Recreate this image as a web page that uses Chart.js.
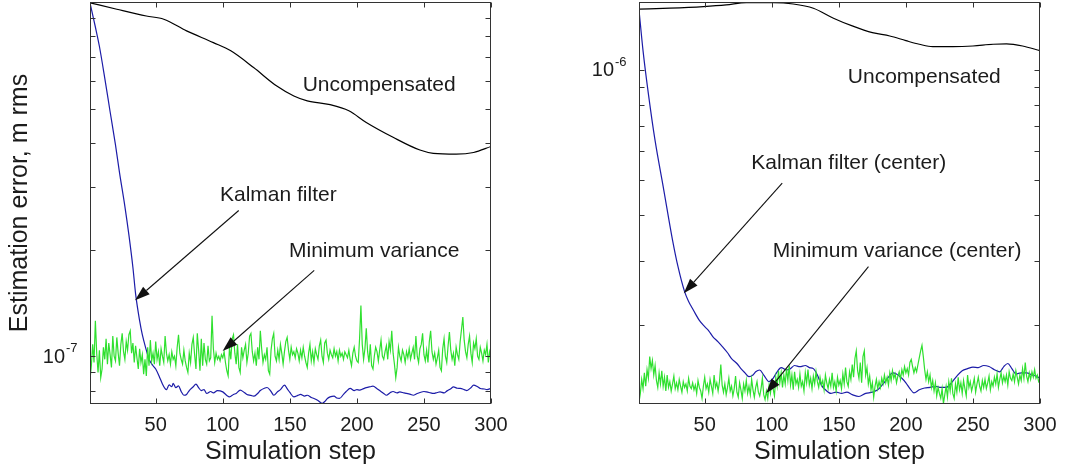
<!DOCTYPE html>
<html>
<head>
<meta charset="utf-8">
<script src="https://cdn.jsdelivr.net/npm/chart.js@4.4.1/dist/chart.umd.min.js"></script>
<style>
  html, body { margin: 0; padding: 0; background: #fff; }
  #wrap { position: relative; width: 1067px; height: 470px; overflow: hidden; }
  canvas { position: absolute; top: 0; }
</style>
</head>
<body>
<div id="wrap">
  <canvas id="left" width="533" height="470" style="left:0"></canvas>
  <canvas id="right" width="534" height="470" style="left:533px"></canvas>
</div>
<script>
// all error values are in units of 1e-8 m rms
const stepTicks = [50, 100, 150, 200, 250, 300];

// left panel
const leftUncomp = [[1, 99.5], [21, 95.4], [43, 91.3], [56, 89.4], [73, 82.9], [93, 76.8], [106, 72.8],
  [123, 65.3], [140, 58.0], [153, 54.3], [163, 52.6], [180, 51.3], [194, 49.3], [207, 45.7], [227, 41.5],
  [247, 38.2], [257, 37.4], [274, 37.2], [287, 37.6], [300, 39.1]];

const leftKalman = [[1, 99.5], [5, 85], [8, 75], [12, 61], [16, 49], [20, 39.5], [23, 33], [27, 26.5],
  [30, 22], [33, 17.8], [35, 15], [38, 12.6], [40, 11.5], [43, 10.4], [45, 9.8], [48, 9.4], [50, 9.2],
  [53, 8.7], [55, 8.35], [57, 8.1], [58, 8.05], [60, 8.3], [62, 8.2], [63, 8.38], [65, 8.15], [67, 8.25],
  [69, 7.95], [71, 7.76], [73, 7.8], [75, 8.0], [78, 8.2], [80, 8.34], [82, 8.15], [84, 8.0], [86, 8.05],
  [88, 7.85], [91, 7.95], [93, 7.88], [96, 8.0], [100, 7.93], [103, 7.75], [105, 7.68], [108, 7.8],
  [110, 7.85], [113, 8.02], [116, 7.9], [118, 7.8], [121, 7.75], [123, 7.71], [126, 7.85], [128, 8.0],
  [131, 8.12], [133, 8.16], [136, 7.95], [138, 7.76], [141, 7.95], [143, 8.05], [146, 8.29], [148, 8.1],
  [150, 7.9], [153, 7.68], [156, 7.75], [158, 7.8], [161, 7.72], [163, 7.76], [166, 7.65], [168, 7.6],
  [171, 7.5], [174, 7.36], [176, 7.45], [178, 7.6], [180, 7.68], [183, 7.72], [185, 7.62], [187, 7.6],
  [190, 7.8], [192, 7.95], [195, 8.11], [198, 8.0], [200, 8.05], [202, 8.02], [205, 8.1], [207, 8.15],
  [210, 8.2], [212, 8.23], [215, 8.1], [217, 8.0], [220, 7.85], [222, 7.76], [225, 7.9], [227, 7.95],
  [230, 7.88], [232, 7.93], [235, 7.88], [237, 7.85], [240, 7.8], [242, 7.76], [245, 7.85], [247, 7.9],
  [250, 7.95], [252, 7.93], [255, 7.88], [257, 7.85], [260, 7.9], [262, 7.93], [265, 7.88], [267, 7.97],
  [270, 8.1], [272, 8.19], [275, 8.12], [277, 8.11], [280, 8.05], [282, 8.0], [285, 8.15], [287, 8.29],
  [290, 8.2], [292, 8.11], [295, 8.08], [297, 8.05], [300, 8.11]];

const leftMinVar = [
  8.6, 9.4, 10.8, 9.6, 12.6, 10.2, 9.0, 10.4, 8.7, 9.2, 10.6, 9.8, 11.2, 9.5, 10.9, 10.1, 9.3, 11.4, 10.0, 9.7,
  11.3, 10.2, 9.4, 10.8, 11.6, 10.3, 9.8, 11.0, 10.4, 11.5, 11.8, 10.2, 10.9, 9.6, 10.7, 9.9, 9.2, 10.5, 9.6, 10.1,
  8.9, 9.8, 8.8, 10.6, 9.4, 11.1, 9.7, 10.2, 9.5, 11.0, 9.8, 10.3, 9.4, 10.5, 10.0, 9.6, 11.4, 10.2, 9.7, 10.1,
  9.5, 10.3, 9.8, 10.0, 9.4, 10.6, 11.5, 10.2, 9.8, 9.5, 10.4, 9.7, 9.3, 9.0, 10.2, 9.6, 10.8, 11.3, 10.1, 9.2,
  11.6, 10.4, 9.1, 11.2, 9.4, 10.9, 9.8, 9.5, 10.7, 9.7, 9.9, 13.0, 10.5, 9.6, 10.2, 9.8, 10.0, 9.7, 10.1, 9.9,
  10.3, 9.6, 9.1, 8.8, 10.6, 9.8, 11.2, 11.5, 10.2, 9.5, 10.8, 9.3, 9.0, 10.6, 9.9, 10.4, 10.8, 9.6, 10.2, 11.4,
  11.6, 10.3, 9.7, 10.2, 9.4, 10.6, 9.8, 11.8, 10.5, 9.6, 10.1, 9.8, 10.6, 9.1, 8.9, 10.4, 11.2, 11.6, 10.0, 9.7,
  10.4, 9.8, 10.8, 10.2, 9.5, 10.3, 11.0, 11.3, 10.4, 9.8, 10.6, 10.1, 10.3, 9.9, 10.5, 10.2, 9.7, 10.4, 9.9, 10.6,
  10.0, 9.6, 9.3, 10.2, 10.8, 9.7, 10.3, 9.6, 10.5, 10.1, 9.8, 10.7, 11.1, 10.0, 9.6, 10.9, 11.1, 10.2, 9.8, 10.4,
  10.1, 9.9, 10.5, 10.0, 10.3, 9.7, 10.4, 10.0, 10.2, 9.8, 10.3, 10.1, 9.9, 10.4, 9.8, 9.4, 10.2, 10.6, 10.0, 9.7,
  9.6, 11.2, 13.9, 10.8, 9.8, 10.5, 12.0, 10.3, 9.6, 10.8, 9.4, 9.2, 10.0, 10.6, 10.3, 9.7, 10.4, 11.1, 10.0, 9.8,
  10.3, 10.7, 9.8, 11.0, 10.4, 11.8, 10.2, 9.5, 8.7, 9.3, 10.6, 10.0, 9.7, 10.4, 10.1, 9.6, 10.3, 9.9, 10.5, 9.8,
  10.2, 10.6, 9.8, 11.4, 10.0, 9.6, 10.5, 10.8, 11.6, 10.1, 9.7, 10.4, 9.6, 11.0, 11.8, 10.3, 9.8, 10.2, 9.5, 9.9,
  10.4, 9.3, 9.1, 10.5, 11.2, 10.0, 9.6, 10.7, 11.7, 10.4, 9.8, 10.2, 9.4, 10.6, 10.1, 9.8, 11.0, 11.9, 12.9, 11.1,
  10.3, 9.9, 10.8, 11.4, 10.2, 9.6, 10.9, 10.5, 11.2, 10.0, 9.8, 10.6, 10.2, 9.7, 10.4, 10.1, 10.8, 9.6, 10.3, 9.9];

// right panel
const rightUncomp = [[1, 146.7], [24, 147.6], [49, 149.1], [66, 150.7], [81, 152.9], [101, 152.9], [116, 151.6],
  [131, 147.6], [146, 138.6], [160, 132], [175, 126.5], [188, 123.9], [200, 120.3], [210, 117.6], [220, 115.8],
  [235, 115.8], [250, 116.3], [265, 117.6], [275, 117.8], [287, 116.3], [300, 112.9]];

const rightKalman = [[1, 146], [4, 113], [8, 86], [13, 64], [19, 48], [26, 34.2], [30, 29], [35, 24.7],
  [38, 23.2], [40, 22.5], [43, 21.5], [46, 20.6], [50, 19.8], [53, 19.3], [56, 18.6], [60, 18.0], [63, 17.5],
  [67, 16.8], [70, 16.2], [74, 15.7], [77, 15.2], [80, 14.8], [83, 14.45], [86, 14.6], [88, 14.9], [91, 15.07],
  [94, 14.6], [98, 14.0], [101, 14.3], [104, 14.9], [107, 15.3], [111, 15.07], [114, 15.2], [117, 15.5],
  [121, 15.39], [125, 15.5], [128, 15.3], [131, 15.2], [134, 14.6], [137, 13.7], [140, 13.3], [144, 13.0],
  [148, 13.1], [152, 13.0], [156, 13.1], [160, 12.9], [165, 12.75], [170, 13.0], [175, 13.1], [179, 13.3],
  [183, 13.8], [187, 14.4], [190, 14.8], [193, 14.7], [197, 14.3], [200, 13.9], [203, 13.4], [206, 13.05],
  [210, 13.3], [214, 13.45], [218, 13.5], [222, 13.6], [226, 13.5], [230, 13.5], [234, 13.9], [238, 14.5],
  [242, 15.0], [246, 15.2], [250, 15.35], [254, 15.3], [258, 15.5], [262, 15.4], [266, 15.1], [270, 14.9],
  [273, 15.4], [276, 15.7], [279, 15.2], [282, 14.7], [286, 14.8], [290, 14.8], [294, 14.6], [297, 14.5],
  [300, 14.3]];

const rightMinVar = [
  12.3, 13.0, 14.2, 13.4, 14.8, 13.6, 15.1, 14.3, 16.4, 15.2, 16.0, 14.6, 15.5, 14.1, 13.5, 14.8, 13.8, 15.0, 13.6, 14.4,
  13.2, 14.6, 13.5, 14.0, 13.2, 13.8, 14.5, 13.4, 13.9, 13.3, 14.2, 13.6, 13.1, 14.0, 13.5, 13.8, 13.2, 14.3, 13.6, 13.4,
  13.9, 13.3, 13.7, 13.0, 14.1, 13.5, 13.2, 12.6, 13.6, 14.4, 13.4, 13.8, 13.1, 14.2, 13.6, 13.0, 14.6, 13.5, 13.9, 13.2,
  14.0, 15.6, 13.7, 13.1, 13.8, 12.9, 13.5, 14.3, 13.2, 13.6, 12.8, 13.4, 14.5, 13.1, 12.7, 13.9, 13.3, 12.6, 13.8, 13.2,
  14.1, 13.0, 13.6, 12.9, 14.2, 13.3, 12.7, 13.5, 14.0, 13.1, 12.8, 13.4, 14.3, 12.9, 12.5, 13.2, 12.6, 13.7, 13.0, 13.9,
  13.4, 12.8, 14.4, 13.6, 15.0, 13.9, 14.8, 13.5, 14.6, 13.8, 15.2, 14.1, 15.5, 13.7, 14.6, 13.3, 14.9, 13.8, 14.2, 13.5,
  14.7, 13.6, 14.0, 13.2, 14.8, 13.9, 15.1, 13.7, 14.3, 13.4, 14.5, 13.8, 14.9, 14.0, 13.5, 14.4, 13.7, 14.1, 13.3, 14.6,
  13.9, 13.4, 14.2, 13.6, 14.8, 13.5, 14.0, 13.2, 14.4, 13.7, 14.1, 13.4, 14.7, 13.8, 15.3, 14.0, 13.6, 14.9, 14.2, 15.6,
  14.4, 16.2, 17.0, 15.0, 14.3, 15.8, 13.9, 16.4, 17.0, 14.6, 15.3, 13.8, 14.5, 13.3, 13.9, 12.7, 13.6, 14.2, 13.4, 14.0,
  13.5, 14.3, 13.8, 14.6, 13.9, 14.4, 13.7, 14.8, 14.1, 15.0, 14.3, 14.7, 13.9, 14.5, 14.9, 14.2, 15.1, 14.6, 15.4, 14.8,
  15.2, 14.6, 15.8, 16.1, 15.4, 14.8, 15.3, 14.9, 15.6, 16.3, 17.0, 17.6, 16.4, 15.1, 14.2, 14.9, 14.0, 14.6, 13.5, 14.1,
  13.2, 13.9, 12.8, 13.5, 13.0, 12.6, 13.4, 12.2, 12.9, 13.6, 12.7, 14.0, 13.2, 14.3, 13.0, 12.6, 13.8, 13.1, 14.4, 13.3,
  13.9, 13.0, 14.1, 13.4, 12.8, 14.6, 13.5, 14.0, 13.2, 13.7, 14.3, 13.1, 13.8, 14.4, 13.6, 13.2, 14.1, 13.5, 14.2, 13.4,
  13.9, 14.5, 13.3, 14.0, 13.6, 14.4, 13.8, 14.7, 13.5, 14.2, 14.8, 13.9, 14.5, 14.0, 14.6, 13.7, 14.9, 14.3, 14.1, 14.7,
  14.0, 15.0, 14.4, 13.8, 14.6, 14.1, 15.2, 14.3, 15.8, 14.5, 14.0, 14.8, 14.2, 14.9, 14.4, 15.1, 14.3, 14.6, 14.0, 14.2];

const UNIT = 1e-8;
const FONT = "'Liberation Sans', Arial, Helvetica, sans-serif";
const TEXT = '#1c1c1c';

function pairs(list) {
  return list.map(p => ({ x: p[0], y: p[1] * UNIT }));
}

function series(vals) {
  return vals.map((v, i) => ({ x: i + 1, y: v * UNIT }));
}

function arrow(ctx, x0, y0, x1, y1) {
  const ang = Math.atan2(y1 - y0, x1 - x0);
  const len = 15, half = 5;
  const bx = x1 - len * Math.cos(ang), by = y1 - len * Math.sin(ang);
  ctx.beginPath();
  ctx.moveTo(x0, y0);
  ctx.lineTo(bx, by);
  ctx.stroke();
  ctx.beginPath();
  ctx.moveTo(x1, y1);
  ctx.lineTo(bx + half * Math.sin(ang), by - half * Math.cos(ang));
  ctx.lineTo(bx - half * Math.sin(ang), by + half * Math.cos(ang));
  ctx.closePath();
  ctx.fill();
}

// box, inward ticks, axis labels, notes and arrows
function framePlugin(cfg) {
  return {
    id: 'frame',
    afterDatasetsDraw(chart) {
      const { ctx, chartArea: a, scales: { x, y } } = chart;
      const L = Math.round(a.left) + 0.5, R = Math.round(a.right) - 0.5;
      const T = Math.round(a.top) + 0.5, B = Math.round(a.bottom) - 0.5;
      ctx.save();
      ctx.strokeStyle = '#333';
      ctx.lineWidth = 1;
      ctx.strokeRect(L, T, R - L, B - T);

      ctx.beginPath();
      stepTicks.forEach(t => {
        const px = Math.round(x.getPixelForValue(t)) + 0.5;
        ctx.moveTo(px, B); ctx.lineTo(px, B - 5);
        ctx.moveTo(px, T); ctx.lineTo(px, T + 5);
      });
      const lo = Math.floor(Math.log10(y.min)), hi = Math.ceil(Math.log10(y.max));
      for (let e = lo; e <= hi; e++) {
        for (let m = 1; m <= 9; m++) {
          const v = m * Math.pow(10, e);
          if (v < y.min || v > y.max) continue;
          const py = Math.round(y.getPixelForValue(v)) + 0.5;
          ctx.moveTo(L, py); ctx.lineTo(L + 5, py);
          ctx.moveTo(R, py); ctx.lineTo(R - 5, py);
        }
      }
      ctx.stroke();

      ctx.fillStyle = TEXT;

      // step tick labels and axis title
      ctx.font = '20px ' + FONT;
      ctx.textAlign = 'center';
      ctx.textBaseline = 'middle';
      stepTicks.forEach(t => ctx.fillText(String(t), x.getPixelForValue(t), a.bottom + 21));
      ctx.font = '25px ' + FONT;
      ctx.fillText('Simulation step', (a.left + a.right) / 2, a.bottom + 48);

      // decade label with superscript exponent
      const dy = y.getPixelForValue(Math.pow(10, cfg.decade));
      ctx.font = '20px ' + FONT;
      ctx.textAlign = 'right';
      const lx = a.left - 25;
      ctx.fillText('10', lx, dy + 1);
      ctx.font = '13px ' + FONT;
      ctx.textAlign = 'left';
      ctx.textBaseline = 'alphabetic';
      ctx.fillText(String(cfg.decade), lx + 1, dy - 4);

      if (cfg.yTitle) {
        ctx.save();
        ctx.translate(20, (a.top + a.bottom) / 2);
        ctx.rotate(-Math.PI / 2);
        ctx.font = '25px ' + FONT;
        ctx.textAlign = 'center';
        ctx.textBaseline = 'middle';
        ctx.fillText(cfg.yTitle, 0, 0);
        ctx.restore();
      }

      ctx.font = '21px ' + FONT;
      ctx.textAlign = 'left';
      ctx.textBaseline = 'alphabetic';
      cfg.notes.forEach(n => {
        ctx.fillText(n.text, x.getPixelForValue(n.step), y.getPixelForValue(n.value * UNIT));
      });

      ctx.strokeStyle = '#111';
      ctx.fillStyle = '#111';
      ctx.lineWidth = 1.1;
      cfg.arrows.forEach(r => {
        arrow(ctx,
          x.getPixelForValue(r.from[0]), y.getPixelForValue(r.from[1] * UNIT),
          x.getPixelForValue(r.to[0]), y.getPixelForValue(r.to[1] * UNIT));
      });
      ctx.restore();
    }
  };
}

function makeChart(id, cfg) {
  return new Chart(document.getElementById(id), {
    type: 'line',
    data: {
      datasets: [
        { data: pairs(cfg.uncomp), borderColor: '#000', borderWidth: 1.2, cubicInterpolationMode: 'monotone' },
        { data: series(cfg.minVar), borderColor: '#2fe02f', borderWidth: 1.2, tension: 0 },
        { data: pairs(cfg.kalman), borderColor: '#1c1ca8', borderWidth: 1.2, cubicInterpolationMode: 'monotone' },
      ],
    },
    options: {
      responsive: false,
      animation: false,
      devicePixelRatio: 1,
      parsing: false,
      layout: { padding: cfg.padding, autoPadding: false },
      elements: { point: { radius: 0 } },
      plugins: { legend: { display: false }, tooltip: { enabled: false } },
      scales: {
        x: { type: 'linear', display: false, min: 1, max: 300 },
        y: { type: 'logarithmic', display: false, min: cfg.yMin * UNIT, max: cfg.yMax * UNIT },
      },
    },
    plugins: [framePlugin(cfg)],
  });
}

makeChart('left', {
  uncomp: leftUncomp,
  kalman: leftKalman,
  minVar: leftMinVar,
  yMin: 7.33,
  yMax: 100,
  decade: -7,
  yTitle: 'Estimation error, m rms',
  padding: { left: 90, right: 42, top: 2, bottom: 66 },
  notes: [
    { text: 'Uncompensated', step: 159.6, value: 56.1 },
    { text: 'Kalman filter', step: 97.9, value: 27.5 },
    { text: 'Minimum variance', step: 149.4, value: 19.05 },
  ],
  arrows: [
    { from: [111.9, 25.78], to: [34.6, 14.38] },
    { from: [168.2, 17.47], to: [99.9, 10.35] },
  ],
});

makeChart('right', {
  uncomp: rightUncomp,
  kalman: rightKalman,
  minVar: rightMinVar,
  yMin: 12.16,
  yMax: 153.5,
  decade: -6,
  padding: { left: 106, right: 27, top: 2, bottom: 66 },
  notes: [
    { text: 'Uncompensated', step: 156.7, value: 92.1 },
    { text: 'Kalman filter (center)', step: 84.7, value: 53.4 },
    { text: 'Minimum variance (center)', step: 100.8, value: 30.8 },
  ],
  arrows: [
    { from: [107.8, 48.94], to: [34.4, 24.45] },
    { from: [172.1, 28.91], to: [95.8, 13.01] },
  ],
});
</script>
</body>
</html>
